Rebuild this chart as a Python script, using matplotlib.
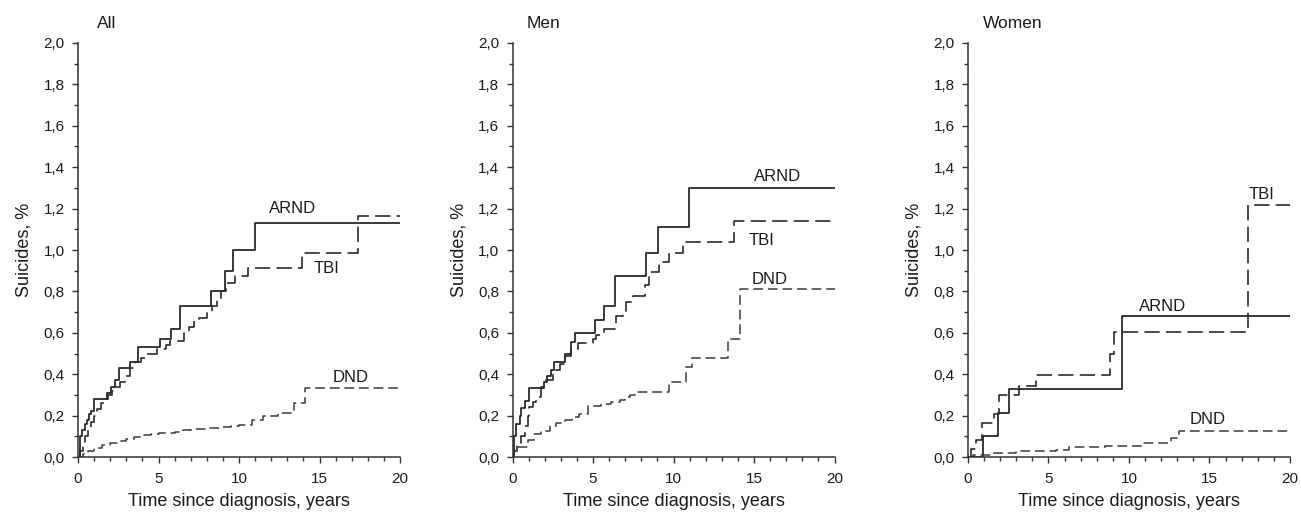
import matplotlib
matplotlib.use('Agg')
import matplotlib.pyplot as plt
from matplotlib.ticker import MultipleLocator, FuncFormatter

plt.rcParams['font.family'] = ['Liberation Sans', 'DejaVu Sans']
plt.rcParams['lines.scale_dashes'] = False

# ---- All ----
arnd_all_t = [0, 0.12, 0.27, 0.42, 0.54, 0.69, 0.8, 0.96, 1.82, 2.03, 2.28, 2.55, 3.23, 3.75,
              5.09, 5.76, 6.34, 8.28, 9.1, 9.6, 11.0]
arnd_all_y = [0, 0.10, 0.13, 0.16, 0.18, 0.21, 0.22, 0.28, 0.31, 0.34, 0.37, 0.43, 0.46, 0.53,
              0.57, 0.62, 0.73, 0.80, 0.90, 1.00, 1.13]
tbi_all_t = [0, 0.15, 0.3, 0.45, 0.6, 0.8, 1.0, 1.2, 1.4, 1.6, 1.85, 2.1, 2.35, 2.6, 2.9,
             3.25, 3.55, 3.9, 4.25, 4.9, 5.45, 5.7, 6.6, 6.9, 7.2, 7.5, 8.0, 8.3, 8.6, 8.85,
             9.2, 9.75, 10.55, 13.9, 17.4]
tbi_all_y = [0, 0.03, 0.06, 0.10, 0.13, 0.17, 0.20, 0.23, 0.26, 0.28, 0.30, 0.32, 0.34, 0.36, 0.39,
             0.43, 0.46, 0.48, 0.50, 0.52, 0.54, 0.56, 0.60, 0.63, 0.65, 0.67, 0.70, 0.73, 0.77, 0.80,
             0.84, 0.875, 0.915, 0.985, 1.163]
dnd_all_t = [0, 0.3, 0.6, 1.0, 1.5, 2.0, 2.5, 3.0, 3.5, 4.0, 4.5, 5.0, 6.0, 6.5, 7.0, 8.0,
             9.0, 9.5, 10.0, 10.8, 11.5, 12.4, 13.4, 14.1]
dnd_all_y = [0, 0.015, 0.03, 0.042, 0.056, 0.069, 0.077, 0.085, 0.095, 0.104, 0.11, 0.114, 0.12,
             0.13, 0.135, 0.14, 0.146, 0.15, 0.155, 0.18, 0.20, 0.215, 0.26, 0.335]

# ---- Men ----
arnd_men_t = [0, 0.08, 0.23, 0.43, 0.54, 0.75, 1.0, 1.95, 2.15, 2.36, 2.57, 3.23, 3.64, 3.85,
              5.13, 5.7, 6.33, 8.3, 9.06, 10.98]
arnd_men_y = [0, 0.10, 0.16, 0.20, 0.235, 0.27, 0.335, 0.36, 0.39, 0.42, 0.46, 0.50, 0.557, 0.60,
              0.66, 0.73, 0.873, 0.985, 1.11, 1.30]
tbi_men_t = [0, 0.1, 0.3, 0.54, 0.75, 0.95, 1.05, 1.25, 1.47, 1.78, 2.1, 2.5, 2.7, 2.95, 3.23,
             3.64, 4.06, 5.0, 5.2, 5.7, 6.4, 6.85, 7.06, 7.5, 8.2, 8.5, 9.1, 9.7, 10.57, 13.77]
tbi_men_y = [0, 0.03, 0.07, 0.10, 0.15, 0.20, 0.24, 0.265, 0.29, 0.34, 0.37, 0.40, 0.42, 0.45, 0.49,
             0.52, 0.55, 0.57, 0.59, 0.62, 0.68, 0.69, 0.75, 0.78, 0.83, 0.895, 0.94, 0.985, 1.04, 1.138]
dnd_men_t = [0, 0.05, 0.33, 0.95, 1.3, 1.78, 2.3, 2.7, 3.23, 3.7, 4.1, 4.7, 5.5, 6.1, 6.65,
             7.0, 7.3, 7.6, 9.7, 10.8, 11.15, 13.4, 14.15]
dnd_men_y = [0, 0.04, 0.05, 0.08, 0.11, 0.125, 0.15, 0.165, 0.18, 0.195, 0.21, 0.245, 0.256, 0.267,
             0.275, 0.29, 0.30, 0.315, 0.36, 0.435, 0.48, 0.57, 0.81]

# ---- Women ----
arnd_women_t = [0, 0.96, 1.85, 2.55, 9.58]
arnd_women_y = [0, 0.10, 0.213, 0.328, 0.68]
tbi_women_t = [0, 0.19, 0.5, 0.87, 1.63, 1.95, 3.2, 4.2, 8.8, 9.06, 17.37]
tbi_women_y = [0, 0.04, 0.08, 0.166, 0.21, 0.30, 0.343, 0.396, 0.50, 0.605, 1.215]
dnd_women_t = [0, 0.3, 1.5, 3.0, 5.5, 6.3, 8.5, 10.9, 12.6, 13.1]
dnd_women_y = [0, 0.01, 0.02, 0.03, 0.035, 0.05, 0.055, 0.07, 0.09, 0.125]

panel_titles = ['All', 'Men', 'Women']
series_names = ['ARND', 'TBI', 'DND']
# label positions (data coords) per panel: ARND, TBI, DND
label_pos = [
    [(13.35, 1.20), (15.45, 0.91), (16.9, 0.386)],
    [(16.43, 1.354), (15.47, 1.048), (15.98, 0.858)],
    [(12.07, 0.729), (18.22, 1.27), (14.9, 0.179)],
]

panels = [
    [(arnd_all_t, arnd_all_y), (tbi_all_t, tbi_all_y), (dnd_all_t, dnd_all_y)],
    [(arnd_men_t, arnd_men_y), (tbi_men_t, tbi_men_y), (dnd_men_t, dnd_men_y)],
    [(arnd_women_t, arnd_women_y), (tbi_women_t, tbi_women_y), (dnd_women_t, dnd_women_y)],
]

styles = [
    dict(color='#2a2a2a', lw=1.3, linestyle='-'),
    dict(color='#2a2a2a', lw=1.2, dashes=(11, 4.5)),
    dict(color='#3a3a3a', lw=1.1, dashes=(7, 3.5)),
]

lefts = [0.060, 0.394, 0.744]
width = 0.2475
title_dx = [0.059, 0.045, 0.047]

fig = plt.figure(figsize=(13.01, 5.16), dpi=100)
comma_fmt = FuncFormatter(lambda v, pos: f'{v:.1f}'.replace('.', ','))

for i, left in enumerate(lefts):
    ax = fig.add_axes([left, 0.1143, width, 0.8024])
    for (t, y), st in zip(panels[i], styles):
        t_full = list(t) + [20]
        y_full = list(y) + [y[-1]]
        ax.step(t_full, y_full, where='post', **st)
    for name, (lx, ly) in zip(series_names, label_pos[i]):
        ax.text(lx, ly, name, ha='center', va='center', fontsize=12, color='#1a1a1a')
    ax.text(title_dx[i], 1.03, panel_titles[i], transform=ax.transAxes,
            ha='left', va='bottom', fontsize=12.5, color='#1a1a1a')

    ax.set_xlim(0, 20)
    ax.set_ylim(0, 2.0)
    ax.xaxis.set_major_locator(MultipleLocator(5))
    ax.xaxis.set_minor_locator(MultipleLocator(1))
    ax.yaxis.set_major_locator(MultipleLocator(0.2))
    ax.yaxis.set_minor_locator(MultipleLocator(0.1))
    ax.yaxis.set_major_formatter(comma_fmt)
    for side in ['top', 'right']:
        ax.spines[side].set_visible(False)
    for side in ['left', 'bottom']:
        ax.spines[side].set_color('#333333')
        ax.spines[side].set_linewidth(1.1)
    ax.tick_params(which='major', direction='out', length=4.5, width=1.0, color='#333333',
                   labelsize=11, labelcolor='#1a1a1a')
    ax.tick_params(which='minor', direction='out', length=3.2, width=1.0, color='#333333')
    ax.tick_params(axis='x', which='major', pad=6)
    ax.tick_params(axis='y', which='major', pad=5)
    ax.set_xlabel('Time since diagnosis, years', fontsize=13, color='#1a1a1a', labelpad=5)
    ax.set_ylabel('Suicides, %', fontsize=13, color='#1a1a1a', labelpad=8)

fig.savefig('out.png', dpi=100)
